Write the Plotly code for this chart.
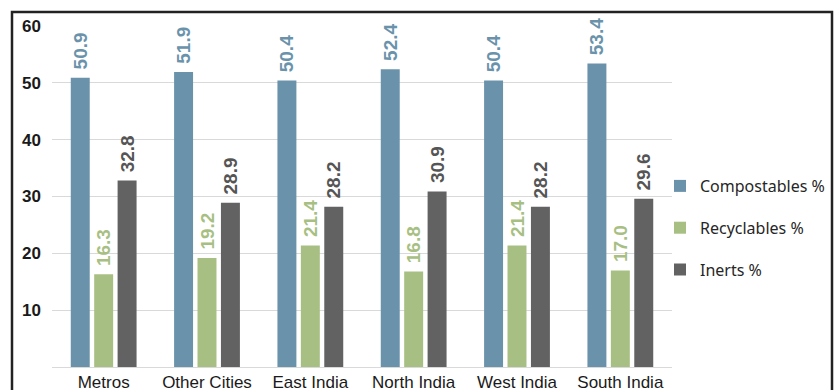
import plotly.graph_objects as go

categories = ["Metros", "Other Cities", "East India", "North India", "West India", "South India"]
compostables = [50.9, 51.9, 50.4, 52.4, 50.4, 53.4]
recyclables = [16.3, 19.2, 21.4, 16.8, 21.4, 17.0]
inerts = [32.8, 28.9, 28.2, 30.9, 28.2, 29.6]
y_ticks = [10, 20, 30, 40, 50, 60]

series = [
    ("Compostables %", compostables, "#6A93AB", "#6A93AB"),
    ("Recyclables %", recyclables, "#A8BF83", "#A8BF83"),
    ("Inerts %", inerts, "#626262", "#555555"),
]

fig = go.Figure()
for name, vals, color, tcolor in series:
    fig.add_trace(go.Bar(
        x=categories, y=vals, name=name,
        marker=dict(color=color, line=dict(width=0)),
        texttemplate="\u00a0%{y:.1f}", textposition="outside", textangle=-90,
        constraintext="none", cliponaxis=False,
        textfont=dict(family="Liberation Sans", size=19, color=tcolor, weight="bold"),
        legendgroup=name,
    ))

L, R, T, B = 52, 672, 26, 367
W, H = 840, 390
pw, ph = R - L, B - T

def px_x(p):
    return (p - L) / pw

def px_y(p):
    return (B - p) / ph

fig.update_layout(
    template="none",
    width=W, height=H,
    margin=dict(l=L, r=W - R, t=T, b=H - B, autoexpand=False),
    paper_bgcolor="white", plot_bgcolor="white",
    barmode="group", bargap=0.32, bargroupgap=0.19,
    showlegend=True,
    legend=dict(
        x=px_x(660), y=px_y(228), xanchor="left", yanchor="middle",
        font=dict(family="Noto Sans", size=16, color="#262626"),
        tracegroupgap=18, bgcolor="rgba(0,0,0,0)", itemwidth=30,
    ),
    xaxis=dict(
        showgrid=False, showline=True, linecolor="#D9D9D9", linewidth=1,
        ticks="", automargin=False,
        tickfont=dict(family="Liberation Sans", size=17, color="#1a1a1a"),
    ),
    yaxis=dict(
        range=[0, 60], tickvals=y_ticks, showgrid=True, gridcolor="#D9D9D9",
        gridwidth=1, zeroline=False, showline=False, ticks="", automargin=False,
        ticklabelstandoff=10,
        tickfont=dict(family="Liberation Sans", size=17, color="#1a1a1a", weight="bold"),
    ),
    shapes=[dict(
        type="rect", xref="paper", yref="paper",
        x0=px_x(12), x1=px_x(832), y0=px_y(420), y1=px_y(12),
        line=dict(color="#222222", width=2.5), fillcolor="rgba(0,0,0,0)", layer="above",
    )],
)

fig.write_html("out.html")
